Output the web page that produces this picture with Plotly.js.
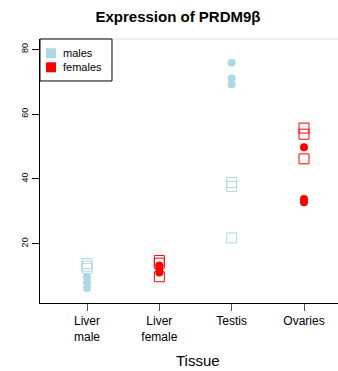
<!DOCTYPE html>
<html><head><meta charset="utf-8">
<script src="https://cdn.plot.ly/plotly-3.0.1.min.js"></script>
<style>html,body{margin:0;padding:0;background:#fff;overflow:hidden}</style>
</head><body><div id="chart" style="width:338px;height:371px"></div>
<script>
// tissue positions and their tick labels
const tissueCodes = [1, 2, 3, 4];
const tissueLabels = ['Liver<br>male', 'Liver<br>female', 'Testis', 'Ovaries'];
const yTicks = [20, 40, 60, 80];

// males: filled circles and open squares (two measurements), by tissue
const maleCircleTissue = [1, 1, 1, 3, 3, 3];
const maleCircleExpr = [9.7, 8.0, 6.3, 75.9, 71.0, 69.2];
const maleSquareTissue = [1, 1, 1, 3, 3, 3];
const maleSquareExpr = [13.9, 13.1, 12.4, 38.9, 37.7, 21.8];

// females
const femaleCircleTissue = [2, 2, 2, 4, 4, 4];
const femaleCircleExpr = [13.3, 12.3, 11.1, 49.8, 33.8, 32.8];
const femaleSquareTissue = [2, 2, 2, 4, 4, 4];
const femaleSquareExpr = [14.8, 14.0, 9.8, 55.7, 53.8, 46.2];

// legend entries
const legendNames = ['males', 'females'];

const MALE = '#ADD8E6';
const FEMALE = '#FF0000';
const legendColors = [MALE, FEMALE];

const circle = (x, y, c, name) => ({
  type: 'scatter', mode: 'markers', x, y, name, showlegend: false,
  marker: {symbol: 'circle', size: 8, color: c, line: {width: 0}}, hoverinfo: 'skip'
});
const square = (x, y, c, name) => ({
  type: 'scatter', mode: 'markers', x, y, name, showlegend: false,
  marker: {symbol: 'square-open', size: 10, color: c, line: {width: 1, color: c}}, hoverinfo: 'skip'
});

const data = [
  square(maleSquareTissue, maleSquareExpr, MALE, 'males'),
  circle(maleCircleTissue, maleCircleExpr, MALE, 'males'),
  square(femaleSquareTissue, femaleSquareExpr, FEMALE, 'females'),
  circle(femaleCircleTissue, femaleCircleExpr, FEMALE, 'females')
];

// boxed key in the top-left corner of the plot
const keyBox = {x0: 0, x1: 0.2416, y0: 0.841, y1: 1};
const keyRows = [0.9458, 0.8928];
const keyIconX = 0.0369, keyTextX = 0.0705;

const shapes = [
  {type: 'line', xref: 'paper', yref: 'paper', x0: 0, x1: 1, y0: 1, y1: 1, line: {color: '#ddd', width: 1}, layer: 'below'},
  {type: 'rect', xref: 'paper', yref: 'paper', ...keyBox, fillcolor: '#fff', line: {color: '#000', width: 1}, layer: 'above'}
];
const annotations = [
  {text: 'Tissue', xref: 'paper', yref: 'paper', x: 0.53, y: 0, yshift: -57, xanchor: 'center', yanchor: 'middle',
   showarrow: false, font: {size: 15, color: '#000'}}
];
legendNames.forEach((name, i) => {
  const c = legendColors[i];
  shapes.push({type: 'rect', xref: 'paper', yref: 'paper', xsizemode: 'pixel', ysizemode: 'pixel',
    xanchor: keyIconX, yanchor: keyRows[i], x0: -5, x1: 5, y0: -5, y1: 5,
    fillcolor: c, line: {width: 0}, layer: 'above'});
  shapes.push({type: 'circle', xref: 'paper', yref: 'paper', xsizemode: 'pixel', ysizemode: 'pixel',
    xanchor: keyIconX, yanchor: keyRows[i], x0: -4.5, x1: 4.5, y0: -4.5, y1: 4.5,
    fillcolor: c, line: {width: 0}, layer: 'above'});
  annotations.push({text: name, xref: 'paper', yref: 'paper', x: keyTextX, y: keyRows[i],
    xanchor: 'left', yanchor: 'middle', showarrow: false, font: {size: 11, color: '#000'}});
});

const layout = {
  width: 338, height: 371,
  margin: {l: 40, r: 0, t: 39, b: 68},
  paper_bgcolor: '#fff', plot_bgcolor: '#fff',
  showlegend: false,
  font: {family: 'Liberation Sans, Arial, sans-serif', color: '#000'},
  title: {text: '<b>Expression of PRDM9β</b>', font: {size: 15, color: '#000'},
          x: 0.463, xref: 'paper', xanchor: 'center', y: 0.955, yref: 'container', yanchor: 'middle'},
  xaxis: {
    range: [0.35, 4.47], tickvals: tissueCodes, ticktext: tissueLabels,
    showgrid: false, zeroline: false, showline: true, linecolor: '#000', linewidth: 1,
    ticks: 'outside', ticklen: 7, tickcolor: '#555', tickfont: {size: 12}, fixedrange: true
  },
  yaxis: {
    range: [1.7, 83.2], tickvals: yTicks, tickangle: -90,
    showgrid: false, zeroline: false, showline: true, linecolor: '#000', linewidth: 1,
    ticks: 'outside', ticklen: 7, tickcolor: '#000', tickfont: {size: 9}, fixedrange: true
  },
  shapes, annotations
};

Plotly.newPlot('chart', data, layout, {displayModeBar: false, staticPlot: true});
</script>
</body></html>
